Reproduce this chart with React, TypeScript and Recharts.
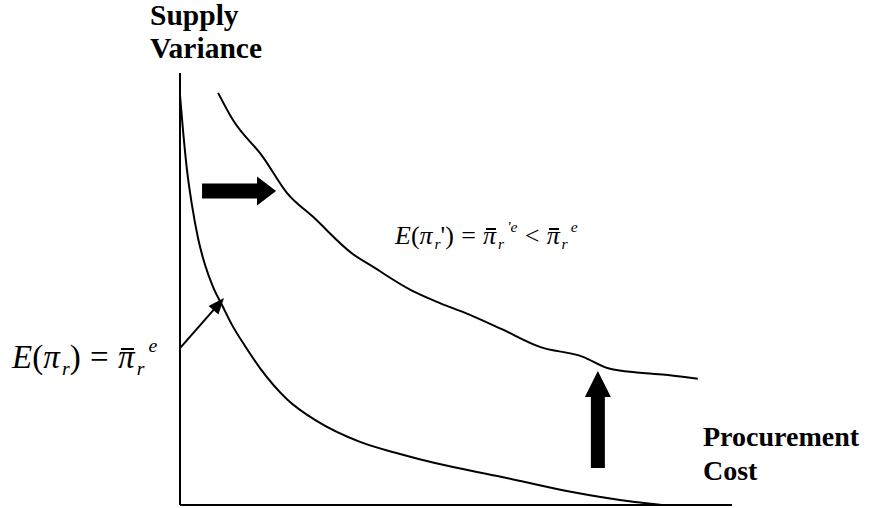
import React from 'react';
import { LineChart, Line, XAxis, YAxis, ReferenceDot, ReferenceLine } from 'recharts';

// original iso-profit curve E(pi_r) (procurement cost vs supply variance)
const baseCost = [0, 0.54, 1.27, 2.17, 3.26, 4.53, 5.98, 7.61, 9.42, 11.78, 14.49, 19.38, 24.82, 32.61, 39.86, 46.2, 58.33, 70.29, 82.43, 87.32];
const baseVariance = [94.9, 86.8, 77.5, 69.4, 61.8, 55.6, 50.5, 46.3, 41.7, 36.8, 31.7, 24.5, 19.4, 14.6, 11.8, 9.7, 6.5, 3.2, 0.7, 0];

// shifted curve E(pi_r')
const shiftedCost = [6.9, 9.6, 15.0, 19.4, 24.1, 31.3, 35.0, 42.2, 46.2, 52.2, 58.3, 65.2, 73.0, 77.4, 83.3, 88.4, 93.8];
const shiftedVariance = [95.4, 89.1, 80.6, 72.2, 66.7, 58.1, 55.1, 49.5, 47.2, 44.2, 40.7, 36.6, 34.3, 31.7, 30.6, 30.1, 29.2];

// annotation anchors, in data units
const rightArrowTip = { x: 17.4, y: 72.7 };
const upArrowTip = { x: 75.7, y: 31.0 };
const pointerTail = { x: 0, y: 36.3 };
const pointerMid = { x: 7.0, y: 46.5 };
const pointerTip = { x: 7.97, y: 47.9 };

const baseData = baseCost.map((x, i) => ({ x, y: baseVariance[i] }));
const shiftedData = shiftedCost.map((x, i) => ({ x, y: shiftedVariance[i] }));

const SERIF = "'Liberation Serif', Tinos, 'Times New Roman', 'DejaVu Serif', serif";

const RightArrow = (props: any) => {
  const { cx, cy } = props;
  const pts = [
    [cx - 74, cy - 7.5], [cx - 19, cy - 7.5], [cx - 19, cy - 14.5], [cx, cy],
    [cx - 19, cy + 14.5], [cx - 19, cy + 7.5], [cx - 74, cy + 7.5],
  ];
  return <polygon points={pts.map((p) => p.join(',')).join(' ')} fill="#000" />;
};

const UpArrow = (props: any) => {
  const { cx, cy } = props;
  const pts = [
    [cx, cy], [cx + 13, cy + 26], [cx + 7, cy + 26], [cx + 7, cy + 97],
    [cx - 7, cy + 97], [cx - 7, cy + 26], [cx - 13, cy + 26],
  ];
  return <polygon points={pts.map((p) => p.join(',')).join(' ')} fill="#000" />;
};

const PointerHead = (props: any) => {
  const { cx, cy } = props;
  const pts = [[cx, cy], [cx - 16, cy - 6.5], [cx - 16, cy + 6.5]];
  return (
    <polygon
      points={pts.map((p) => p.join(',')).join(' ')}
      fill="#000"
      transform={`rotate(-49 ${cx} ${cy})`}
    />
  );
};

const Sub = ({ children }: { children: React.ReactNode }) => (
  <span style={{ fontSize: '0.6em', position: 'relative', top: '0.35em', fontStyle: 'italic', marginLeft: '0.12em' }}>{children}</span>
);

const Sup = ({ children }: { children: React.ReactNode }) => (
  <span style={{ fontSize: '0.6em', position: 'relative', top: '-0.8em', fontStyle: 'italic', marginLeft: '0.2em' }}>{children}</span>
);

// pi with an overline bar (mean value)
const Bar = ({ children }: { children: React.ReactNode }) => (
  <span style={{ position: 'relative', display: 'inline-block', lineHeight: '1em', fontStyle: 'italic' }}>
    {children}
    <span style={{ position: 'absolute', left: '0.1em', right: '0.02em', top: '0.2em', height: 0, borderTop: '2px solid #000' }} />
  </span>
);

const Op = ({ children }: { children: React.ReactNode }) => (
  <span style={{ margin: '0 0.28em' }}>{children}</span>
);

const labelStyle: React.CSSProperties = {
  position: 'absolute',
  fontFamily: SERIF,
  fontWeight: 'bold',
  color: '#000',
  whiteSpace: 'nowrap',
};

const App = () => {
  return (
    <div style={{ position: 'absolute', left: 0, top: 0, width: 871, height: 508, background: '#fff' }}>
      <LineChart width={871} height={508} margin={{ top: 73, right: 139, bottom: 2, left: 179 }}>
        <XAxis
          type="number"
          dataKey="x"
          domain={[0, 100]}
          tick={false}
          tickLine={false}
          axisLine={{ stroke: '#000', strokeWidth: 2 }}
          height={1}
        />
        <YAxis
          type="number"
          dataKey="y"
          domain={[0, 100]}
          tick={false}
          tickLine={false}
          axisLine={{ stroke: '#000', strokeWidth: 2 }}
          width={1}
        />
        <Line
          data={baseData}
          dataKey="y"
          type="monotone"
          stroke="#000"
          strokeWidth={2}
          dot={false}
          isAnimationActive={false}
        />
        <Line
          data={shiftedData}
          dataKey="y"
          type="monotone"
          stroke="#000"
          strokeWidth={2}
          dot={false}
          isAnimationActive={false}
        />
        <ReferenceLine segment={[pointerTail, pointerMid]} stroke="#000" strokeWidth={2} />
        <ReferenceDot x={pointerTip.x} y={pointerTip.y} shape={PointerHead} />
        <ReferenceDot x={rightArrowTip.x} y={rightArrowTip.y} shape={RightArrow} />
        <ReferenceDot x={upArrowTip.x} y={upArrowTip.y} shape={UpArrow} />
      </LineChart>

      <div style={{ ...labelStyle, left: 150, top: -1, fontSize: 29.5, lineHeight: '33px' }}>
        Supply
        <br />
        Variance
      </div>
      <div style={{ ...labelStyle, left: 703, top: 420, fontSize: 28, lineHeight: '34px' }}>
        Procurement
        <br />
        Cost
      </div>

      <div style={{ position: 'absolute', left: 12, top: 337, fontFamily: SERIF, fontSize: 33, lineHeight: '40px', whiteSpace: 'nowrap' }}>
        <i>E</i>(<i>π</i><Sub>r</Sub>)<Op>=</Op><Bar>π</Bar><Sub>r</Sub><Sup>e</Sup>
      </div>
      <div style={{ position: 'absolute', left: 395, top: 220, fontFamily: SERIF, fontSize: 26, lineHeight: '32px', whiteSpace: 'nowrap' }}>
        <i>E</i>(<i>π</i><Sub>r</Sub>')<Op>=</Op><Bar>π</Bar><Sub>r</Sub><Sup>'e</Sup><Op>&lt;</Op><Bar>π</Bar><Sub>r</Sub><Sup>e</Sup>
      </div>
    </div>
  );
};

export default App;
